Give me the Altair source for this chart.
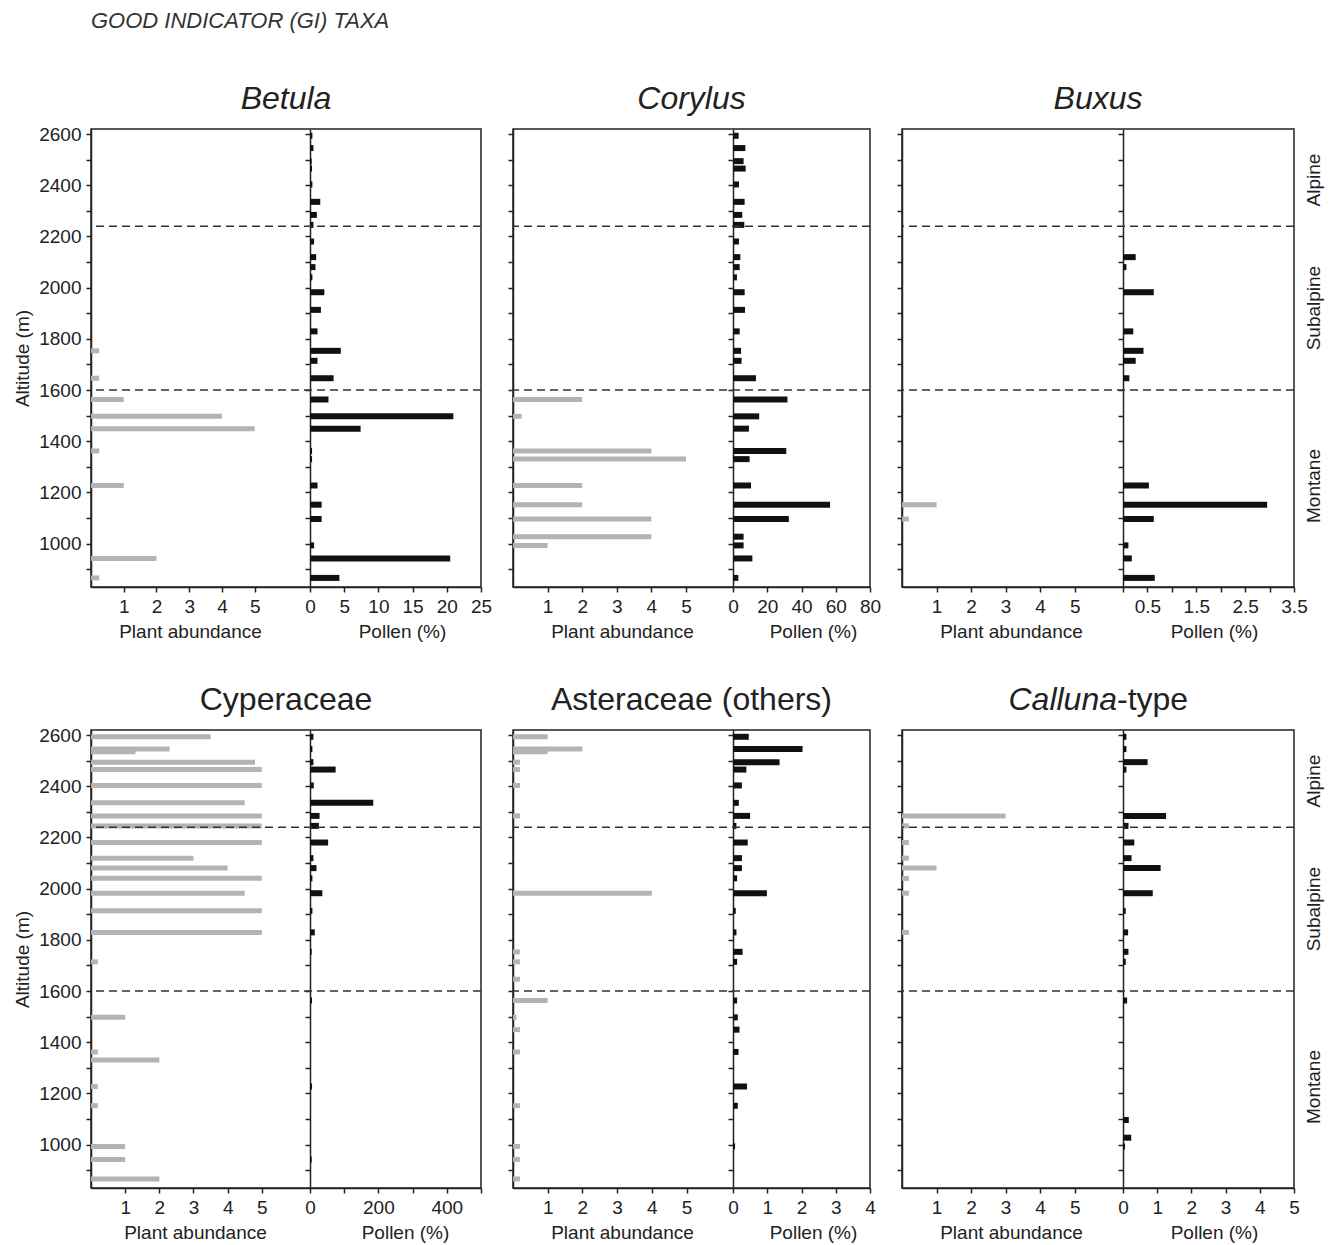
import altair as alt
import pandas as pd

FONT = "Liberation Sans"
INK = "#222222"
GREY = "#b3b3b3"
BLACK = "#111111"

# sample altitudes (m)
ALTITUDES = [2593, 2545, 2535, 2494, 2465, 2403, 2335, 2284, 2245, 2180, 2119,
             2080, 2040, 1982, 1913, 1829, 1753, 1714, 1646, 1563, 1497, 1449,
             1362, 1330, 1227, 1152, 1096, 1027, 993, 942, 866]

ZONE_BOUNDS = [2240, 1600]
ZONE_NAMES = ["Alpine", "Subalpine", "Montane"]
ZONE_MIDS = [2420, 1920, 1225]
Y_TICKS = list(range(900, 2601, 100))
ABUND_TICKS = [1, 2, 3, 4, 5]

betula_abund = [0, 0, 0, 0, 0, 0, 0, 0, 0, 0, 0, 0, 0, 0, 0, 0, 0.25, 0, 0.25, 1, 4, 5,
                0.25, 0, 1, 0, 0, 0, 0, 2, 0.25]
betula_pollen = [0.35, 0.5, 0, 0.25, 0.3, 0.35, 1.5, 1.0, 0.5, 0.6, 0.9, 0.8, 0.35, 2.1,
                 1.6, 1.1, 4.5, 1.1, 3.45, 2.7, 20.95, 7.4, 0.3, 0.3, 1.1, 1.7, 1.7, 0,
                 0.6, 20.5, 4.3]

corylus_abund = [0, 0, 0, 0, 0, 0, 0, 0, 0, 0, 0, 0, 0, 0, 0, 0, 0, 0, 0, 2, 0.25, 0,
                 4, 5, 2, 2, 4, 4, 1, 0, 0]
corylus_pollen = [3.3, 7.2, 0, 6.2, 7.4, 3.5, 6.8, 5.4, 6.6, 3.5, 4.3, 3.9, 2.3, 6.8,
                  7.0, 3.9, 4.7, 5.0, 13.4, 31.8, 15.3, 9.3, 31.1, 9.7, 10.5, 56.7,
                  32.6, 6.2, 6.2, 11.3, 3.1]

buxus_abund = [0, 0, 0, 0, 0, 0, 0, 0, 0, 0, 0, 0, 0, 0, 0, 0, 0, 0, 0, 0, 0, 0, 0, 0,
               0, 1, 0.2, 0, 0, 0, 0]
buxus_pollen = [0, 0, 0, 0, 0, 0, 0, 0, 0, 0, 0.26, 0.07, 0, 0.63, 0, 0.21, 0.42, 0.26,
                0.13, 0, 0, 0, 0, 0, 0.53, 2.95, 0.63, 0, 0.11, 0.18, 0.65]

cyper_abund = [3.5, 2.3, 1.3, 4.8, 5, 5, 4.5, 5, 5, 5, 3, 4, 5, 4.5, 5, 5, 0, 0.2, 0, 0,
               1, 0, 0.2, 2, 0.2, 0.2, 0, 0, 1, 1, 2]
cyper_pollen = [10, 7, 0, 10, 75, 11, 185, 28, 26, 53, 10, 19, 7, 36, 7, 14, 5, 0, 0, 6,
                0, 0, 0, 0, 6, 0, 0, 0, 0, 5, 0]

aster_abund = [1, 2, 1, 0.2, 0.2, 0.2, 0, 0.2, 0, 0, 0, 0, 0, 4, 0, 0, 0.2, 0.2, 0.2, 1,
               0.1, 0.2, 0.2, 0, 0, 0.2, 0, 0, 0.2, 0.2, 0.2]
aster_pollen = [0.46, 2.03, 0, 1.36, 0.39, 0.26, 0.17, 0.5, 0.1, 0.43, 0.26, 0.26, 0.12,
                0.99, 0.08, 0.1, 0.28, 0.12, 0, 0.12, 0.14, 0.19, 0.16, 0, 0.41, 0.14,
                0, 0, 0.06, 0, 0]

calluna_abund = [0, 0, 0, 0, 0, 0, 0, 3, 0.2, 0.2, 0.2, 1, 0.2, 0.2, 0, 0.2, 0, 0, 0, 0,
                 0, 0, 0, 0, 0, 0, 0, 0, 0, 0, 0]
calluna_pollen = [0.1, 0.1, 0, 0.72, 0.1, 0, 0, 1.26, 0.16, 0.33, 0.25, 1.1, 0, 0.87,
                  0.08, 0.15, 0.16, 0.08, 0, 0.12, 0, 0, 0, 0, 0, 0, 0.17, 0.24, 0.06,
                  0, 0]

# title pieces: (text, italic)
PANELS = [
    dict(title=[("Betula", True)], abund=betula_abund, pollen=betula_pollen,
         amax=6.69, pmax=25, pticks=[0, 5, 10, 15, 20, 25], pexpr=None,
         lw=219, rw=171, ylab=True, zones=False, atx=99, ptx=311),
    dict(title=[("Corylus", True)], abund=corylus_abund, pollen=corylus_pollen,
         amax=6.36, pmax=80, pticks=[0, 20, 40, 60, 80], pexpr=None,
         lw=220, rw=137, ylab=False, zones=False, atx=109, ptx=300),
    dict(title=[("Buxus", True)], abund=buxus_abund, pollen=buxus_pollen,
         amax=6.4, pmax=3.5, pticks=[0, 0.5, 1, 1.5, 2, 2.5, 3, 3.5],
         pexpr="datum.value % 1 == 0.5 ? datum.label : ''",
         lw=221, rw=171, ylab=False, zones=True, atx=109, ptx=312),
    dict(title=[("Cyperaceae", False)], abund=cyper_abund, pollen=cyper_pollen,
         amax=6.41, pmax=500, pticks=[0, 100, 200, 300, 400, 500],
         pexpr="datum.value % 200 == 0 ? datum.label : ''",
         lw=219, rw=171, ylab=True, zones=False, atx=104, ptx=314),
    dict(title=[("Asteraceae (others)", False)], abund=aster_abund, pollen=aster_pollen,
         amax=6.34, pmax=4, pticks=[0, 1, 2, 3, 4], pexpr=None,
         lw=220, rw=137, ylab=False, zones=False, atx=109, ptx=300),
    dict(title=[("Calluna", True), ("-type", False)], abund=calluna_abund,
         pollen=calluna_pollen,
         amax=6.4, pmax=5, pticks=[0, 1, 2, 3, 4, 5], pexpr=None,
         lw=221, rw=171, ylab=False, zones=True, atx=109, ptx=312),
]

PLOT_H = 458
TITLE_Y = -20
TITLE_SIZE = 32


def title_layers(parts, lw, total):
    out = []
    if len(parts) == 1:
        text, italic = parts[0]
        out.append(alt.Chart(pd.DataFrame({"t": [text]})).mark_text(
            fontSize=TITLE_SIZE, font=FONT, color=INK,
            fontStyle="italic" if italic else "normal", align="center",
            baseline="alphabetic"
        ).encode(x=alt.value(total / 2), y=alt.value(TITLE_Y), text="t:N"))
    else:
        (t1, i1), (t2, i2) = parts
        split = lw - 6
        out.append(alt.Chart(pd.DataFrame({"t": [t1]})).mark_text(
            fontSize=TITLE_SIZE, font=FONT, color=INK,
            fontStyle="italic" if i1 else "normal", align="right",
            baseline="alphabetic"
        ).encode(x=alt.value(split), y=alt.value(TITLE_Y), text="t:N"))
        out.append(alt.Chart(pd.DataFrame({"t": [t2]})).mark_text(
            fontSize=TITLE_SIZE, font=FONT, color=INK,
            fontStyle="italic" if i2 else "normal", align="left",
            baseline="alphabetic"
        ).encode(x=alt.value(split), y=alt.value(TITLE_Y), text="t:N"))
    return out


def make_panel(p):
    lw, rw = p["lw"], p["rw"]
    total = lw + rw
    ab = pd.DataFrame({"alt": ALTITUDES, "v": p["abund"]})
    ab = ab[ab["v"] > 0]
    po = pd.DataFrame({"alt": ALTITUDES, "v": p["pollen"]})
    po = po[po["v"] > 0]

    yscale = alt.Scale(domain=[850, 2600], nice=False, zero=False)

    yaxis_kw = dict(values=Y_TICKS, orient="left")
    if p["ylab"]:
        yaxis_kw.update(labelExpr="datum.value % 200 == 0 ? datum.label : ''",
                        title="Altitude (m)", format="d")
    else:
        yaxis_kw.update(labels=False, title=None)

    abund_layer = alt.Chart(ab).mark_bar(orient="horizontal", size=5, color=GREY).encode(
        x=alt.X("v:Q",
                scale=alt.Scale(domain=[0, p["amax"]], range=[0, lw], nice=False),
                axis=alt.Axis(values=ABUND_TICKS, orient="bottom", format="d",
                              title="Plant abundance", titleX=p["atx"])),
        y=alt.Y("alt:Q", scale=yscale, axis=alt.Axis(**yaxis_kw)),
    )

    paxis_kw = dict(values=p["pticks"], orient="bottom", title="Pollen (%)",
                    titleX=p["ptx"])
    if p["pexpr"]:
        paxis_kw["labelExpr"] = p["pexpr"]

    pollen_layer = alt.Chart(po).mark_bar(orient="horizontal", size=6, color=BLACK).encode(
        x=alt.X("v:Q",
                scale=alt.Scale(domain=[0, p["pmax"]], range=[lw, total], nice=False),
                axis=alt.Axis(**paxis_kw)),
        y=alt.Y("alt:Q", scale=yscale,
                axis=alt.Axis(values=Y_TICKS, orient="left", offset=-lw,
                              labels=False, title=None)),
    )

    rules = alt.Chart(pd.DataFrame({"b": ZONE_BOUNDS})).mark_rule(
        color="#333333", strokeDash=[8, 5], strokeWidth=1.5
    ).encode(y=alt.Y("b:Q", scale=yscale, axis=None))

    layers = [abund_layer, pollen_layer, rules]

    if p["zones"]:
        zones = alt.Chart(pd.DataFrame({"zone": ZONE_NAMES, "mid": ZONE_MIDS})).mark_text(
            angle=270, fontSize=19, font=FONT, color=INK, align="center", baseline="middle"
        ).encode(
            y=alt.Y("mid:Q", scale=yscale, axis=None),
            x=alt.value(total + 20),
            text="zone:N",
        )
        layers.append(zones)

    layers += title_layers(p["title"], lw, total)

    return alt.layer(*layers).resolve_scale(x="independent").resolve_axis(
        x="independent", y="independent").properties(width=total, height=PLOT_H)


panels = [make_panel(p) for p in PANELS]

chart = alt.concat(
    *panels, columns=3, spacing={"row": 143, "column": 32}, bounds="flush"
).properties(
    title=alt.TitleParams("GOOD INDICATOR (GI) TAXA", anchor="start", frame="group",
                          fontSize=22, fontStyle="italic", fontWeight="normal",
                          font=FONT, color="#333333", offset=49),
    padding={"left": 4, "top": 2, "right": 0, "bottom": 0},
).configure_view(
    stroke=INK, strokeWidth=1.5
).configure_axis(
    domainColor=INK, domainWidth=1.5, tickColor=INK, tickWidth=1.5, tickSize=5,
    labelColor=INK, labelFont=FONT, labelFontSize=19, labelPadding=5,
    labelFlush=False, labelOverlap=False,
    titleFont=FONT, titleFontSize=19, titleFontWeight="normal", titleColor=INK,
    titlePadding=6, grid=False,
)

chart.save("out.html", embed_options={"renderer": "svg", "actions": False})
